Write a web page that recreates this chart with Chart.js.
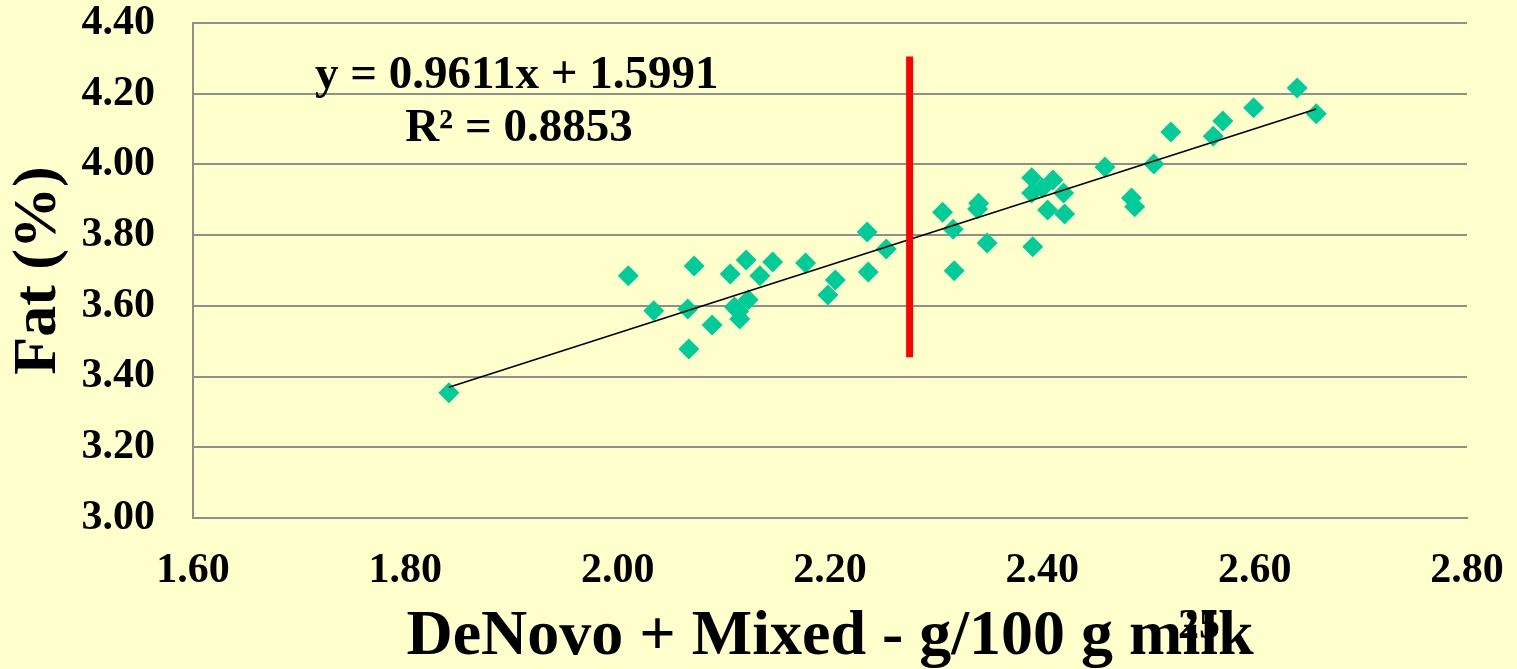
<!DOCTYPE html>
<html>
<head>
<meta charset="utf-8">
<script src="https://cdn.jsdelivr.net/npm/chart.js@4/dist/chart.umd.min.js"></script>
<style>
  html, body { margin: 0; padding: 0; background: #FFFFCC; }
  #wrap { width: 1517px; height: 669px; position: relative; }
</style>
</head>
<body>
<div id="wrap"><canvas id="c" width="1517" height="669"></canvas></div>
<script>
// ---- data ----
const fatX = [1.841, 2.010, 2.034, 2.066, 2.067, 2.072, 2.089, 2.106, 2.110, 2.115,
              2.121, 2.123, 2.134, 2.146, 2.177, 2.198, 2.205, 2.235, 2.236, 2.253,
              2.306, 2.316, 2.317, 2.340, 2.339, 2.348, 2.390, 2.390, 2.400, 2.410,
              2.420, 2.405, 2.421, 2.391, 2.459, 2.505, 2.484, 2.487, 2.521, 2.561,
              2.570, 2.599, 2.640, 2.658, 2.114];
const fatY = [3.354, 3.685, 3.586, 3.591, 3.478, 3.713, 3.546, 3.690, 3.597, 3.563,
              3.730, 3.617, 3.685, 3.724, 3.721, 3.631, 3.673, 3.809, 3.696, 3.761,
              3.865, 3.817, 3.699, 3.890, 3.874, 3.778, 3.962, 3.919, 3.933, 3.956,
              3.919, 3.871, 3.860, 3.767, 3.993, 4.001, 3.905, 3.880, 4.092, 4.080,
              4.123, 4.160, 4.216, 4.143, 3.585];
const trendX = [1.841, 2.658];
const trendY = [3.370, 4.157];
const cutX = [2.275, 2.275];
const cutY = [4.305, 3.455];
const xTicks = [1.6, 1.8, 2.0, 2.2, 2.4, 2.6, 2.8];
const yTicks = [3.0, 3.2, 3.4, 3.6, 3.8, 4.0, 4.2, 4.4];
const eqText = 'y = 0.9611x + 1.5991';
const r2Text = 'R\u00B2 = 0.8853';
const xTitle = 'DeNovo + Mixed - g/100 g milk';
const yTitle = 'Fat (%)';
const slideNo = '25';

const toPts = (xs, ys) => xs.map((x, i) => ({ x: x, y: ys[i] }));
const SERIF = '"Liberation Serif", "Times New Roman", serif';

const textPlugin = {
  id: 'texts',
  afterDraw(chart) {
    const ctx = chart.ctx;
    const xs = chart.scales.x, ys = chart.scales.y;
    ctx.save();
    ctx.fillStyle = '#000';
    ctx.textAlign = 'center';
    ctx.textBaseline = 'alphabetic';
    ctx.font = 'bold 47px ' + SERIF;
    ctx.fillText(eqText, xs.getPixelForValue(1.905), ys.getPixelForValue(4.216));
    ctx.fillText(r2Text, xs.getPixelForValue(1.907), ys.getPixelForValue(4.066));
    ctx.font = 'bold 42px ' + SERIF;
    ctx.fillText(slideNo, 1199, 638);
    ctx.restore();
  }
};

new Chart(document.getElementById('c'), {
  type: 'scatter',
  data: {
    datasets: [
      {
        data: toPts(cutX, cutY), showLine: true, borderColor: '#FF0000',
        borderWidth: 7, pointRadius: 0, order: 0
      },
      {
        data: toPts(trendX, trendY), showLine: true, borderColor: '#000000',
        borderWidth: 1.6, pointRadius: 0, order: 1
      },
      {
        data: toPts(fatX, fatY), pointStyle: 'rectRot', pointRadius: 10.5,
        pointHoverRadius: 10.5, backgroundColor: '#00CC99', borderColor: '#00CC99',
        borderWidth: 0, order: 2
      }
    ]
  },
  options: {
    responsive: false,
    animation: false,
    events: [],
    layout: { padding: { top: 23, right: 50, left: 0, bottom: 0 } },
    plugins: { legend: { display: false }, tooltip: { enabled: false } },
    scales: {
      x: {
        type: 'linear', min: 1.6, max: 2.8,
        afterBuildTicks(s) { s.ticks = xTicks.map(v => ({ value: v })); },
        afterFit(s) { s.height = 151; s.paddingLeft = 40; s.paddingRight = 40; },
        grid: { display: false, drawTicks: false },
        border: { display: true, color: '#8f8f8f', width: 2 },
        ticks: {
          padding: 28,
          color: '#000',
          font: { family: SERIF, size: 42, weight: 'bold', lineHeight: 1.2 },
          callback: v => v.toFixed(2),
          maxRotation: 0, autoSkip: false
        },
        title: {
          display: true, text: xTitle, color: '#000',
          font: { family: SERIF, size: 64, weight: 'bold', lineHeight: 1 },
          padding: { top: 0, bottom: 0 }
        }
      },
      y: {
        type: 'linear', min: 3.0, max: 4.4,
        afterBuildTicks(s) { s.ticks = yTicks.map(v => ({ value: v })); },
        afterFit(s) { s.width = 193; s.paddingTop = 20; s.paddingBottom = 20; },
        grid: { color: '#8f8f8f', lineWidth: 2, drawTicks: false },
        border: { display: true, color: '#8f8f8f', width: 2 },
        ticks: {
          padding: 38,
          color: '#000',
          font: { family: SERIF, size: 42, weight: 'bold', lineHeight: 1 },
          callback: v => v.toFixed(2),
          autoSkip: false
        },
        title: {
          display: true, text: yTitle, color: '#000',
          font: { family: SERIF, size: 62, weight: 'bold', lineHeight: 1 },
          padding: { top: 8, bottom: 0 }
        }
      }
    }
  },
  plugins: [textPlugin]
});
</script>
</body>
</html>
